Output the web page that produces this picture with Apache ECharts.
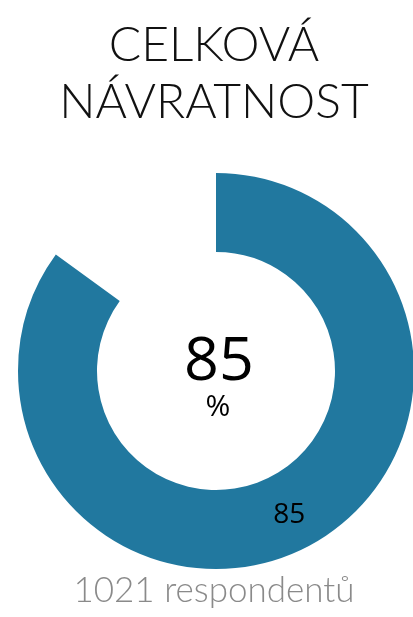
<!DOCTYPE html>
<html>
<head>
<meta charset="utf-8">
<script src="https://cdn.jsdelivr.net/npm/echarts@6/dist/echarts.min.js"></script>
<style>
  html, body { margin: 0; padding: 0; background: #fff; }
  #chart { width: 413px; height: 617px; }
</style>
</head>
<body>
<div id="chart"></div>
<script>
// data
const sliceNames = ['Vráceno', 'Nevráceno'];
const sliceValues = [85, 15];
const respondents = 1021;

let chart = echarts.init(document.getElementById('chart'));

let option = {
  animation: false,
  graphic: [
    {
      // titulek
      type: 'text',
      x: 214,
      y: 17,
      style: {
        text: 'CELKOVÁ\nNÁVRATNOST',
        font: '300 48px Lato',
        lineHeight: 57,
        fill: '#111',
        textAlign: 'center',
        textVerticalAlign: 'top'
      }
    },
    {
      type: 'text',
      x: 219,
      y: 332,
      style: {
        text: String(sliceValues[0]),
        font: '61px "Open Sans"',
        fill: '#000',
        textAlign: 'center',
        textVerticalAlign: 'top'
      }
    },
    {
      type: 'text',
      x: 218,
      y: 392,
      style: {
        text: '%',
        font: '30px "Open Sans"',
        fill: '#000',
        textAlign: 'center',
        textVerticalAlign: 'top'
      }
    },
    {
      type: 'text',
      x: 214,
      y: 573,
      style: {
        text: respondents + ' respondentů',
        font: '300 35px Lato',
        fill: '#8a8a8a',
        textAlign: 'center',
        textVerticalAlign: 'top'
      }
    }
  ],
  series: [
    {
      name: 'Návratnost',
      type: 'pie',
      center: [216, 371],
      radius: [119, 198],
      startAngle: 90,
      clockwise: true,
      silent: true,
      label: {
        show: true,
        position: 'inside',
        formatter: '{c}',
        fontFamily: 'Open Sans',
        fontSize: 28,
        color: '#000'
      },
      labelLine: { show: false },
      data: [
        { name: sliceNames[0], value: sliceValues[0], itemStyle: { color: '#21789f' } },
        { name: sliceNames[1], value: sliceValues[1], itemStyle: { color: 'rgba(0,0,0,0)' }, label: { show: false } }
      ]
    }
  ]
};

chart.setOption(option);
</script>
</body>
</html>
